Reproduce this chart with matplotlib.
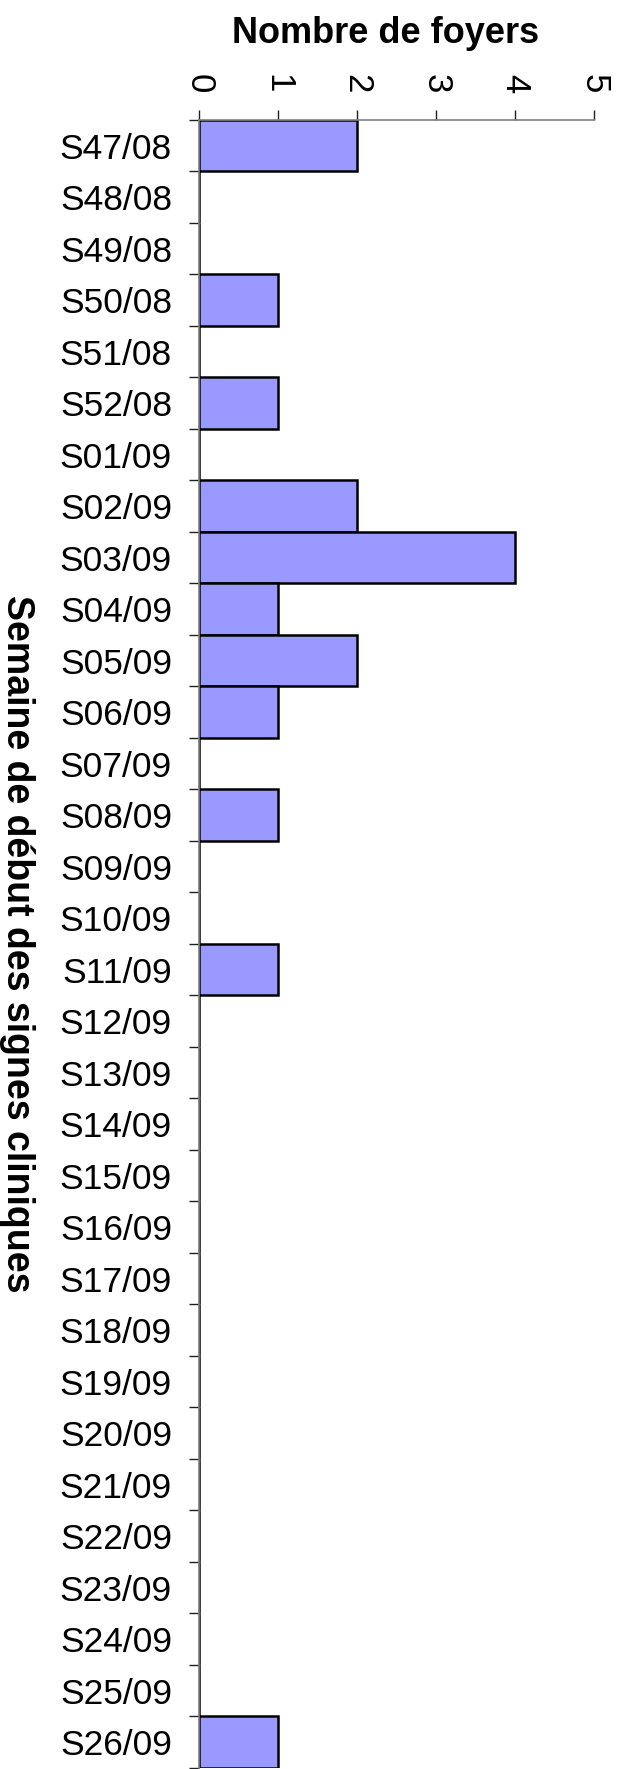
import numpy as np
import matplotlib.pyplot as plt

plt.rcParams['font.family'] = ['Liberation Sans', 'DejaVu Sans']

semaines = ['S47/08', 'S48/08', 'S49/08', 'S50/08', 'S51/08', 'S52/08'] + \
    ['S%02d/09' % i for i in range(1, 27)]
foyers = [2, 0, 0, 1, 0, 1,
          0, 2, 4, 1, 2, 1, 0, 1, 0, 0, 1, 0, 0, 0,
          0, 0, 0, 0, 0, 0, 0, 0, 0, 0, 0, 1]
xticks = [0, 1, 2, 3, 4, 5]

fig = plt.figure(figsize=(6.21, 17.69), dpi=100)
ax = fig.add_axes([0.3205, 0.0006, 0.636, 0.9316])

pos = np.arange(len(semaines))
ax.barh(pos, foyers, height=1.0, color='#9999FF', edgecolor='black',
        linewidth=1.8, zorder=3)

ax.set_ylim(len(semaines) - 0.5, -0.5)
ax.set_xlim(0, 5)

for s in ['right', 'bottom']:
    ax.spines[s].set_visible(False)
for s in ['left', 'top']:
    ax.spines[s].set_color('#808080')
    ax.spines[s].set_linewidth(1.2)
    ax.spines[s].set_zorder(4)

ax.xaxis.tick_top()
ax.set_xticks(xticks)
ax.set_xticklabels([str(v) for v in xticks], rotation=-90, fontsize=25,
                   va='bottom', ha='center')
ax.tick_params(axis='x', direction='out', length=7.2, width=1, color='#202020', pad=12)

ax.set_yticks(pos)
ax.set_yticklabels(semaines, fontsize=25.5)
ax.set_yticks(np.arange(len(semaines) + 1) - 0.5, minor=True)
ax.tick_params(axis='y', which='major', length=0, pad=19.5)
ax.tick_params(axis='y', which='minor', direction='out', length=7.2, width=1, color='#202020')

fig.text(386 / 621, 1 - 43 / 1769, 'Nombre de foyers', fontsize=26,
         fontweight='bold', ha='center', va='baseline')
fig.text(17 / 621, 1 - 944 / 1769, 'Semaine de début des signes cliniques',
         fontsize=27, fontweight='bold', rotation=-90, ha='center', va='center')

fig.savefig('out.png', dpi=100)
